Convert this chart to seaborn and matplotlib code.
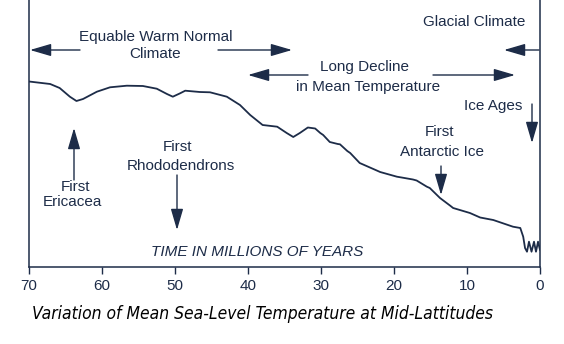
import matplotlib
matplotlib.use("Agg")
import matplotlib.pyplot as plt
import seaborn as sns
import pandas as pd

# Mean sea-level temperature at mid-latitudes (relative units) vs. age in Myr
age_myr = [70.0, 67.1, 65.8, 64.4, 63.5, 62.6, 60.7, 58.9, 56.6, 54.4,
           52.5, 51.1, 50.3, 49.3, 48.6, 46.6, 45.2, 42.9, 41.1, 39.7,
           38.0, 36.0, 34.7, 33.8, 32.9, 31.8, 30.8, 30.1, 29.7, 28.8,
           27.7, 27.4, 26.4, 26.0, 24.7, 22.3, 21.9, 19.6, 18.8, 17.4,
           16.9, 15.5, 15.1, 13.7, 12.3, 11.9, 9.6, 8.2, 6.4,
           3.7, 2.7, 2.3, 2.05, 1.78, 1.51, 1.16, 0.82, 0.55, 0.27, 0.0]
temperature = [18.55, 18.3, 17.9, 17.03, 16.6, 16.8, 17.53, 17.97, 18.13, 18.1,
               17.83, 17.3, 17.03, 17.37, 17.63, 17.5, 17.47, 17.03, 16.2, 15.2,
               14.2, 14.03, 13.4, 13.0, 13.4, 13.95, 13.85, 13.4, 13.2, 12.5,
               12.3, 12.27, 11.6, 11.4, 10.4, 9.63, 9.5, 9.03, 8.93, 8.75,
               8.65, 8.03, 7.9, 6.9, 6.13, 5.9, 5.4, 4.95, 4.7,
               4.03, 3.9, 3.03, 1.9, 1.53, 2.53, 1.53, 2.53, 1.53, 2.53, 1.7]
tick_values = [70, 60, 50, 40, 30, 20, 10, 0]

INK = "#1d2c48"
W, H = 564, 344

sns.set_theme(style="white")
plt.rcParams["font.family"] = ["Liberation Sans", "DejaVu Sans"]

fig = plt.figure(figsize=(W / 100, H / 100), dpi=100)
ax = fig.add_axes([29 / W, (H - 267) / H, 511 / W, 267 / H])

df = pd.DataFrame({"age": age_myr, "temp": temperature})
sns.lineplot(data=df, x="age", y="temp", ax=ax, color=INK, lw=1.3,
             sort=False, estimator=None)
ax.lines[0].set_solid_joinstyle("round")
ax.lines[0].set_solid_capstyle("round")

ax.set_xlim(70, 0)
ax.set_ylim(0, 26.7)
ax.set_xticks(tick_values)
ax.set_xticklabels([str(v) for v in tick_values])
ax.set_yticks([])
ax.set_xlabel("")
ax.set_ylabel("")
ax.tick_params(axis="x", direction="out", length=5, width=1.0, color=INK,
               labelcolor=INK, labelsize=11, pad=4, bottom=True)
for side in ("left", "right", "bottom"):
    ax.spines[side].set_color(INK)
    ax.spines[side].set_linewidth(1.1)
ax.spines["top"].set_visible(False)


def fp(x, y):
    """Pixel position on the canvas -> figure fraction."""
    return (x / W, 1 - y / H)


def label(x, y, s, **kw):
    kw.setdefault("fontsize", 11)
    fig.text(*fp(x, y), s, ha="center", va="center", color=INK, **kw)


def arrow(x0, y0, x1, y1):
    ax.annotate("", xy=fp(x1, y1), xytext=fp(x0, y0),
                xycoords="figure fraction", textcoords="figure fraction",
                arrowprops=dict(arrowstyle="-|>,head_length=1.3,head_width=0.38",
                                mutation_scale=10, lw=1.0, color=INK,
                                shrinkA=0, shrinkB=0),
                annotation_clip=False)


# Climate regimes
label(156, 37, "Equable Warm Normal")
label(155, 54, "Climate")
arrow(80, 50, 30, 50)
arrow(218, 50, 292, 50)

label(365, 67, "Long Decline")
label(368, 87, "in Mean Temperature")
arrow(308, 75, 248, 75)
arrow(433, 75, 515, 75)

label(474, 22, "Glacial Climate")
arrow(539, 50, 504, 50)

# Events
label(493, 106, "Ice Ages")
arrow(532, 104, 532, 143)

label(439, 132, "First")
label(442, 152, "Antarctic Ice")
arrow(441, 166, 441, 195)

label(177, 147, "First")
label(181, 166, "Rhododendrons")
arrow(177, 175, 177, 230)

label(75, 187, "First")
label(72, 202, "Ericacea")
arrow(74, 180, 74, 128)

label(257, 252, "TIME IN MILLIONS OF YEARS", style="italic")

fig.text(*fp(263, 314), "Variation of Mean Sea-Level Temperature at Mid-Lattitudes",
         ha="center", va="center", color="black", fontsize=12.5, style="italic",
         fontstretch="condensed", family=["DejaVu Sans"])

fig.savefig("out.png", dpi=100)
